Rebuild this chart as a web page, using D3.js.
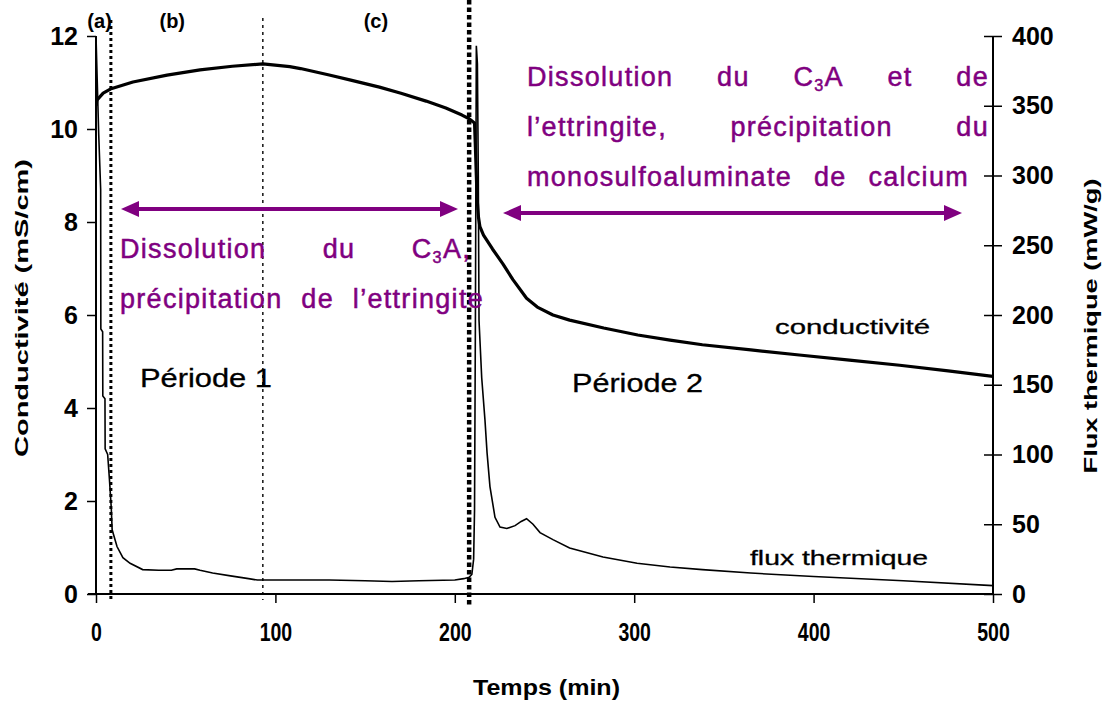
<!DOCTYPE html>
<html><head><meta charset="utf-8">
<script src="https://cdn.jsdelivr.net/npm/d3@7"></script>
<style>
body{margin:0;background:#fff;}
svg{display:block;font-family:"Liberation Sans",Arial,sans-serif;}
</style></head>
<body><svg id="c" width="1108" height="703"></svg>
<script>
// ---- data ----
const xTicks = [0,100,200,300,400,500];
const yLeftTicks = [0,2,4,6,8,10,12];
const yRightTicks = [0,50,100,150,200,250,300,350,400];
const condTime = [0,0.5,4,8,20.6,39.6,58,76,93,108,114,130,142,158,170,184,195,204,208,211,211.5,212,212.5,213.2,214,216,221,226.8,232.4,240,246,254.7,264,283,302,320,338,365,392,420,448,475,500];
const condVal  = [10.5,10.62,10.77,10.86,11.01,11.16,11.27,11.35,11.4,11.34,11.3,11.16,11.05,10.9,10.77,10.6,10.45,10.3,10.22,10.13,9.6,9.0,8.47,8.1,7.9,7.72,7.42,7.1,6.76,6.36,6.17,6.0,5.89,5.72,5.57,5.46,5.36,5.25,5.14,5.03,4.92,4.8,4.68];
const fluxTime = [0,1.5,2.6,2.7,3.7,3.8,5,5.1,6.5,7.5,8.5,9,11.7,15,19,26,35,42,45,55,58,65,75,85,90,100,130,150,165,180,200,205,208,209.5,210.5,211,211.5,212,212.6,213.1,213.5,215,216.8,218,219.6,222.4,225.2,229,233.6,237,240,243.6,247.5,254.7,264,282.6,301.6,320,338,365,400,450,500];
const fluxVal  = [400,330,290,190,188,142,140,104,100,82,62,46,34,26,22,17.5,17,17,18,18,17,15,13,11,10,10,10,9.5,9,9.5,10,11,12,14,25,60,200,393,380,300,196,155,125,101,77,55,48,47,49,52,54,50,44,39,33,26.5,22,19.4,17.5,15,12.5,9.5,6];
const markerTimes = [8.3, 93, 208];
const markerLabels = [{t:"(a)",x:2},{t:"(b)",x:42.5},{t:"(c)",x:156}];

// ---- scales ----
const svg = d3.select("#c");
const x = d3.scaleLinear([0,500],[96,993]);
const yL = d3.scaleLinear([0,12],[594,36]);
const yR = d3.scaleLinear([0,400],[594,36]);
const purple = "#800080";

svg.append("clipPath").attr("id","pc").append("rect").attr("x",96).attr("y",30).attr("width",897).attr("height",564);

// marker dotted lines
const mstyle = [{w:3,d:"3,3",y0:20,y1:602},{w:1.4,d:"3,4",y0:18,y1:600},{w:4.5,d:"4.5,3",y0:0,y1:606}];
markerTimes.forEach((t,i)=>{
  svg.append("line").attr("x1",x(t)).attr("x2",x(t)).attr("y1",mstyle[i].y0).attr("y2",mstyle[i].y1)
    .attr("stroke","#000").attr("stroke-width",mstyle[i].w).attr("stroke-dasharray",mstyle[i].d);
});

// axes
const gl = svg.append("g").attr("transform","translate(96,0)")
  .call(d3.axisLeft(yL).tickValues(yLeftTicks).tickSize(9).tickPadding(9).tickFormat(d3.format("d")));
gl.select(".domain").attr("stroke-width",2).attr("d","M0,36V594");
gl.selectAll(".tick line").attr("stroke-width",1.5);
gl.selectAll(".tick text").attr("font-size",25).attr("font-weight","bold").attr("fill","#000").attr("font-family","Liberation Sans, Arial");

const gr = svg.append("g").attr("transform","translate(993,0)")
  .call(d3.axisRight(yR).tickValues(yRightTicks).tickSize(9).tickPadding(10).tickFormat(d3.format("d")));
gr.select(".domain").attr("stroke-width",2).attr("d","M0,36V594");
gr.selectAll(".tick line").attr("x1",-9).attr("stroke-width",1.5);
gr.selectAll(".tick text").attr("font-size",25).attr("font-weight","bold").attr("fill","#000").attr("font-family","Liberation Sans, Arial");

const gx = svg.append("g").attr("transform","translate(0,594)")
  .call(d3.axisBottom(x).tickValues(xTicks).tickSize(9).tickPadding(0).tickFormat(d3.format("d")));
gx.select(".domain").attr("stroke-width",2).attr("d","M88,0H993");
gx.selectAll(".tick line").attr("stroke-width",1.5);
gx.selectAll(".tick text").attr("font-size",25).attr("font-weight","bold").attr("fill","#000")
  .attr("font-family","Liberation Sans, Arial").attr("dy",null).attr("y",0)
  .attr("transform","translate(0,47) scale(0.78,1)");

// curves
const lineC = d3.line().x((d,i)=>x(condTime[i])).y(d=>yL(d));
const lineF = d3.line().x((d,i)=>x(fluxTime[i])).y(d=>yR(d));
const plot = svg.append("g").attr("clip-path","url(#pc)");
plot.append("path").datum(fluxVal).attr("d",lineF).attr("fill","none").attr("stroke","#000").attr("stroke-width",1.6);
plot.append("path").datum(condVal).attr("d",lineC).attr("fill","none").attr("stroke","#000").attr("stroke-width",3.2).attr("stroke-linejoin","round");

// marker labels
markerLabels.forEach(m=>{
  svg.append("text").attr("x",x(m.x)).attr("y",28).attr("text-anchor","middle").attr("font-size",20).attr("font-weight","bold").text(m.t);
});

// axis titles
function fitText(sel,len){sel.attr("textLength",len).attr("lengthAdjust","spacingAndGlyphs");return sel;}
fitText(svg.append("text").attr("transform","translate(28,308) rotate(-90)").attr("text-anchor","middle")
  .attr("font-size",19).attr("font-weight","bold").text("Conductivité (mS/cm)"),298);
fitText(svg.append("text").attr("transform","translate(1097,326) rotate(-90)").attr("text-anchor","middle")
  .attr("font-size",19).attr("font-weight","bold").text("Flux thermique (mW/g)"),295);
fitText(svg.append("text").attr("x",473).attr("y",695).attr("font-size",22).attr("font-weight","bold").text("Temps (min)"),147);

// curve labels
fitText(svg.append("text").attr("x",140).attr("y",387).attr("font-size",25).attr("stroke","#000").attr("stroke-width",0.3).text("Période 1"),132);
fitText(svg.append("text").attr("x",572).attr("y",392).attr("font-size",25).attr("stroke","#000").attr("stroke-width",0.3).text("Période 2"),131);
fitText(svg.append("text").attr("x",775).attr("y",334).attr("font-size",20).attr("stroke","#000").attr("stroke-width",0.3).text("conductivité"),155);
fitText(svg.append("text").attr("x",750).attr("y",565).attr("font-size",20).attr("stroke","#000").attr("stroke-width",0.3).text("flux thermique"),178);

// justified purple annotations
function wordNode(g,w,fs){
  const t = g.append("text").attr("font-size",fs).attr("fill",purple).attr("stroke",purple).attr("stroke-width",0.5)
    .attr("letter-spacing",1.3);
  if(w==="C3A"||w==="C3A,"){
    t.append("tspan").text("C");
    t.append("tspan").attr("font-size",fs*0.6).attr("dy",5).text("3");
    t.append("tspan").attr("dy",-5).text(w.slice(2));
  } else t.text(w);
  return t;
}
function justify(words,x0,x1,y,fs){
  const g = svg.append("g");
  const nodes = words.map(w=>wordNode(g,w,fs));
  const widths = nodes.map(n=>n.node().getComputedTextLength());
  const gap = (x1-x0-d3.sum(widths))/(words.length-1);
  let cx = x0;
  nodes.forEach((n,i)=>{n.attr("x",cx).attr("y",y);cx+=widths[i]+gap;});
}
const fsA = 27;
justify(["Dissolution","du","C3A","et","de"],527,989,86,fsA);
justify(["l’ettringite,","précipitation","du"],527,989,136,fsA);
justify(["monosulfoaluminate","de","calcium"],527,969,186,fsA);
justify(["Dissolution","du","C3A,"],120,471,258,fsA);
justify(["précipitation","de","l’ettringite"],120,484,308,fsA);

// double arrows
function dArrow(xa,xb,y){
  const h=18, hw=8;
  svg.append("line").attr("x1",xa+h-2).attr("x2",xb-h+2).attr("y1",y).attr("y2",y).attr("stroke",purple).attr("stroke-width",4);
  svg.append("path").attr("d",`M${xa},${y}L${xa+h},${y-hw}L${xa+h},${y+hw}Z`).attr("fill",purple);
  svg.append("path").attr("d",`M${xb},${y}L${xb-h},${y-hw}L${xb-h},${y+hw}Z`).attr("fill",purple);
}
dArrow(121,458,209);
dArrow(503,962,213);
</script></body></html>
